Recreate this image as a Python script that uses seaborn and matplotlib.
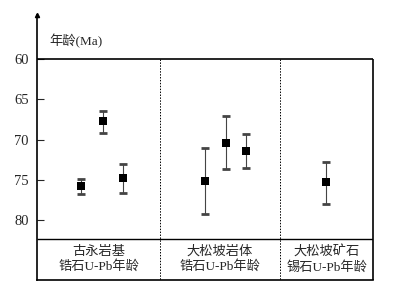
import matplotlib
matplotlib.use("Agg")
import matplotlib.pyplot as plt
import numpy as np
import pandas as pd
import seaborn as sns

sns.set_style("white")
plt.rcParams['font.family'] = ['Liberation Serif', 'Noto Sans CJK SC', 'DejaVu Sans']

# data
groups = ["古永岩基\n锆石U-Pb年龄", "大松坡岩体\n锆石U-Pb年龄", "大松坡矿石\n锡石U-Pb年龄"]
group_of = [0, 0, 0, 1, 1, 1, 2]
xpos = [44, 66, 86, 168, 189, 209, 289]
age = [75.8, 67.7, 74.8, 75.2, 70.4, 71.4, 75.3]
age_min = [74.9, 66.4, 73.0, 71.1, 67.1, 69.3, 72.8]
age_max = [76.8, 69.2, 76.6, 79.3, 73.7, 73.5, 78.0]
yticks = [60, 65, 70, 75, 80]

df = pd.DataFrame({"x": xpos, "age": age, "lo": age_min, "hi": age_max, "g": group_of})

fig = plt.figure(figsize=(3.93, 2.93), dpi=100)
ax = fig.add_axes([37/393, 1-280/293, 336/393, 265/293])

ax.errorbar(df.x, df.age, yerr=[df.age-df.lo, df.hi-df.age], fmt='none',
            ecolor='#444444', elinewidth=0.8, capsize=3, capthick=2, zorder=2)
sns.scatterplot(data=df, x="x", y="age", marker='s', s=38, color='black',
                edgecolor='black', linewidth=0, ax=ax, zorder=3, legend=False)

top, bottom, box = 60, 87.45, 82.36
ax.set_xlim(0, 336)
ax.set_ylim(bottom, 54.53)

# frame
for s in ['top', 'right']:
    ax.spines[s].set_visible(False)
for s in ['left', 'bottom']:
    ax.spines[s].set_color('black')
    ax.spines[s].set_linewidth(1.2)
ax.hlines(top, 0, 336, color='black', lw=1.2, zorder=4)
ax.vlines(336, top, bottom, color='black', lw=1.2, clip_on=False)
ax.hlines(box, 0, 336, color='black', lw=1.0)
for b in [123, 243]:
    ax.vlines(b, top, bottom, color='black', lw=0.7, linestyles=(0, (1.5, 1.5)))
ax.plot([0], [54.53], marker='^', color='black', ms=3, clip_on=False, zorder=5)

ax.set_yticks(yticks)
ax.set_yticklabels([str(t) for t in yticks], fontsize=10.5)
ax.set_xticks([])
ax.tick_params(axis='y', direction='in', length=5, width=0.8, left=True, pad=6)
ax.set_xlabel("")
ax.set_ylabel("")

ax.text(12, 57.8, "年龄(Ma)", fontsize=9.5, ha='left', va='center')

centers = [61.5, 183, 289.5]
for c, label in zip(centers, groups):
    ax.text(c, 84.9, label, fontsize=9.5, ha='center', va='center', linespacing=1.25)

fig.savefig("out.png", dpi=100)
